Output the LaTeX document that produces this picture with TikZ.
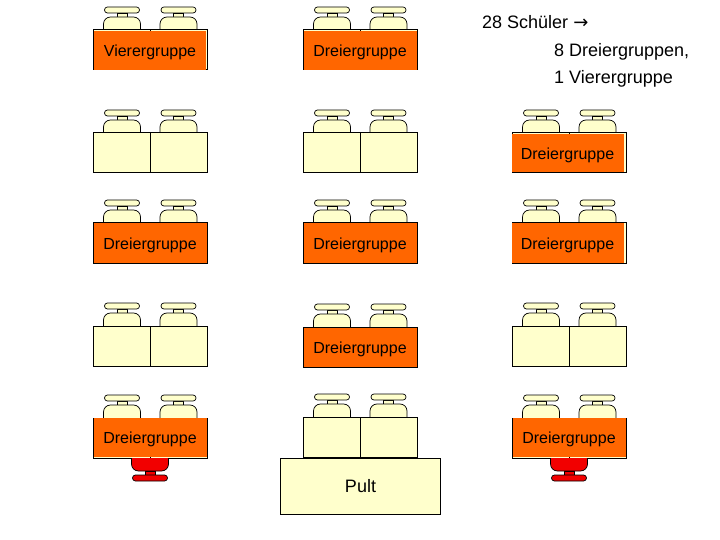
\documentclass[tikz,border=0pt]{standalone}
\usepackage{fontspec}
\setmainfont{Liberation Sans}
\newfontfamily\arrowfont{DejaVu Sans}
\usepackage{tikz}
\usetikzlibrary{positioning}
\definecolor{seatcol}{HTML}{FFFFCC}
\definecolor{groupcol}{HTML}{FF6600}
\definecolor{teachercol}{HTML}{F20000}

\begin{document}
\begin{tikzpicture}[
  x=1pt,y=-1pt,
  txt/.style={font=\fontsize{16}{19}\selectfont,inner sep=0pt,text height=14pt,text depth=1pt},
  bigtxt/.style={txt,font=\fontsize{18}{22}\selectfont},
  desk/.style={draw,line width=1pt,fill=seatcol,minimum width=57pt,minimum height=40pt,inner sep=0pt},
  group/.style={txt,fill=groupcol,minimum width=113pt,minimum height=39pt},
  pult/.style={bigtxt,draw,line width=1pt,fill=seatcol,minimum width=160pt,minimum height=56pt},
  pics/chair/.style={code={
    \draw[line width=.7pt,fill=#1] (-5,-13) rectangle (5,-17);
    \draw[line width=.7pt,fill=#1,rounded corners=7pt] (-18.5,0)--(-18.5,-13)--(18.5,-13)--(18.5,0);
    \draw[line width=.7pt,fill=#1,rounded corners=2.9pt] (-17.5,-17) rectangle (17.5,-23);
  }},
  pics/deskpair/.style={code={
    \pic at (-28,0) {chair=seatcol};
    \pic at (28.5,0) {chair=seatcol};
    \node[desk] (-l) at (-28.5,20) {};
    \node[desk] (-r) at (28.5,20) {};
  }}
]
\useasboundingbox (0,0) rectangle (720,540);

% first column
\pic (a1) at (150,30) {deskpair};
\pic (a2) at (150,133) {deskpair};
\pic (a3) at (150,223) {deskpair};
\pic (a4) at (150,326) {deskpair};
\pic (a5) at (150,418) {deskpair};
% second column
\pic (b1) at (360,30) {deskpair};
\pic (b2) at (360,133) {deskpair};
\pic (b3) at (360,223) {deskpair};
\pic (b4) at (360,327) {deskpair};
\pic (b5) at (360,417) {deskpair};
% third column
\pic (c2) at (569,133) {deskpair};
\pic (c3) at (569,223) {deskpair};
\pic (c4) at (569,326) {deskpair};
\pic (c5) at (569,418) {deskpair};

% teacher side chairs
\pic[yscale=-1] at (150,458) {chair=teachercol};
\pic[yscale=-1] at (569,458) {chair=teachercol};

\node[group,minimum width=112pt] (g1) at (150,50.5) {Vierergruppe};
\node[group] (g2) at (360,50.5) {Dreiergruppe};
\node[group,minimum width=112pt,minimum height=38pt] (g3) at (567.5,153.5) {Dreiergruppe};
\node[group] (g4) at (150,243) {Dreiergruppe};
\node[group] (g5) at (360,243) {Dreiergruppe};
\node[group,minimum width=112pt] (g6) at (567.5,243) {Dreiergruppe};
\node[group] (g7) at (360,347) {Dreiergruppe};
\node[group] (g8) at (150,437) {Dreiergruppe};
\node[group] (g9) at (569,437) {Dreiergruppe};

\node[pult] (pult) at (360.5,486) {Pult};

\node[bigtxt,anchor=west] (n1) at (482,22) {28 Schüler {\arrowfont →}};
\node[bigtxt,anchor=west] (n2) at (554,50.5) {8 Dreiergruppen,};
\node[bigtxt,anchor=west] (n3) at (554,77.5) {1 Vierergruppe};
\end{tikzpicture}
\end{document}
